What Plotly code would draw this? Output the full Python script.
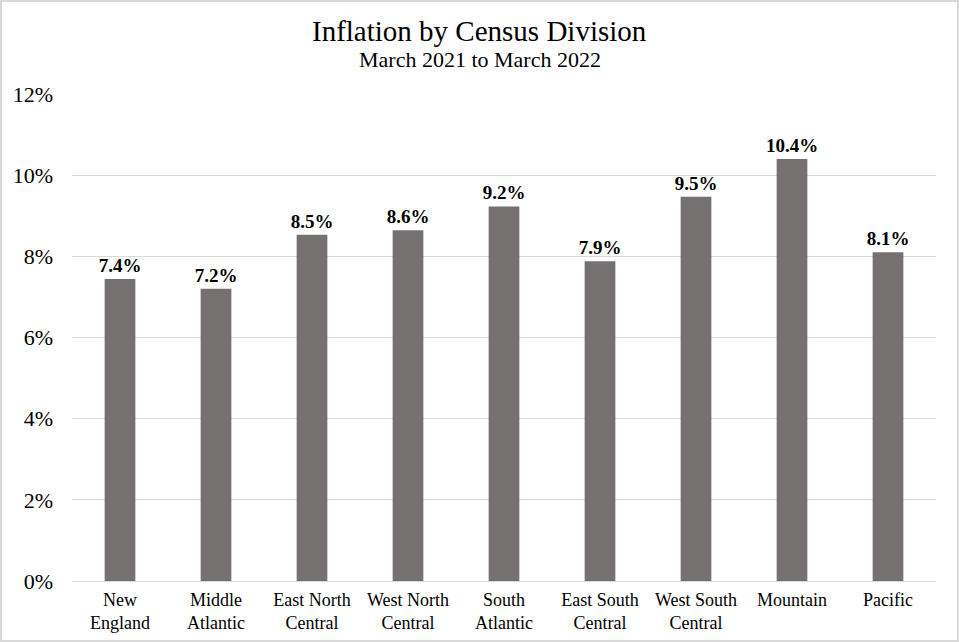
import plotly.graph_objects as go

categories = ["New<br>England", "Middle<br>Atlantic", "East North<br>Central", "West North<br>Central",
              "South<br>Atlantic", "East South<br>Central", "West South<br>Central", "Mountain", "Pacific"]
values = [7.44, 7.2, 8.53, 8.64, 9.23, 7.88, 9.47, 10.4, 8.1]
labels = ["%.1f%%" % v for v in values]

W, H = 959, 642
L, R, T, B = 72, 23, 94, 61
pw, ph = W - L - R, H - T - B
FONT = "Liberation Serif"

fig = go.Figure(go.Bar(
    x=categories, y=values, text=labels, textposition="outside",
    textfont=dict(family=FONT, size=19, color="black", weight="bold"),
    marker=dict(color="#767171", line=dict(width=0)),
    cliponaxis=False, constraintext="none",
))

fig.update_layout(
    width=W, height=H, margin=dict(l=L, r=R, t=T, b=B, autoexpand=False),
    paper_bgcolor="white", plot_bgcolor="white",
    bargap=0.68, showlegend=False,
    font=dict(family=FONT, color="black"),
    xaxis=dict(showgrid=False, showline=True, linecolor="#d9d9d9", linewidth=1, automargin=False,
               ticks="", tickfont=dict(family=FONT, size=18, color="black"), ticklabelstandoff=2),
    yaxis=dict(range=[0, 12], dtick=2, ticksuffix="%", showgrid=True, gridcolor="#d9d9d9",
               zeroline=False, showline=False, ticks="", automargin=False,
               tickfont=dict(family=FONT, size=22, color="black"), ticklabelstandoff=18),
    annotations=[
        dict(text="Inflation by Census Division", x=(W / 2 - L) / pw,
             y=(ph + T - 31) / ph, xref="paper", yref="paper", showarrow=False,
             font=dict(family=FONT, size=29, color="black"), yanchor="middle", xanchor="center"),
        dict(text="March 2021 to March 2022", x=(W / 2 - L) / pw,
             y=(ph + T - 60) / ph, xref="paper", yref="paper", showarrow=False,
             font=dict(family=FONT, size=22, color="black"), yanchor="middle", xanchor="center"),
    ],
    shapes=[dict(type="rect", xref="paper", yref="paper",
                 x0=-(L - 1) / pw, x1=1 + (R - 1) / pw, y0=-(B - 1) / ph, y1=1 + (T - 1) / ph,
                 line=dict(color="#d9d9d9", width=2))],
)

fig.write_html("out.html", config={"displayModeBar": False},
               post_script="document.body.style.margin='0';document.body.style.overflow='hidden';")
